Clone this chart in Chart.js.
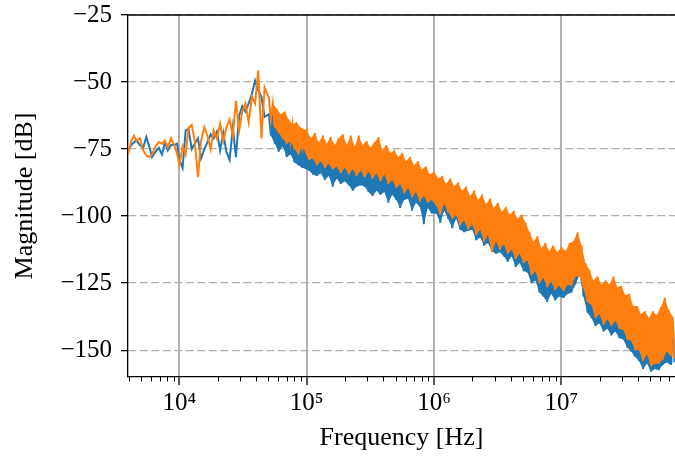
<!DOCTYPE html>
<html>
<head>
<meta charset="utf-8">
<title>Magnitude spectrum</title>
<script src="https://cdn.jsdelivr.net/npm/chart.js@4.4.1/dist/chart.umd.min.js"></script>
<style>
  html, body { margin: 0; padding: 0; background: #ffffff; }
  canvas { display: block; }
</style>
</head>
<body>
<canvas id="spectrum" width="675" height="456"></canvas>
<script>
// Frequency grid [Hz] (coarser below 50 kHz)
const freqHz = [
  3950, 4200, 4400, 4600, 4900, 5200, 5500, 5800, 6100, 6500, 6900, 7300, 7700, 8100, 8600, 9100, 9600,
  10000, 10600, 11200, 11800, 12500, 13200, 14000, 14800, 15700, 16600, 17600, 18600, 19700, 20900, 22100,
  23400, 24800, 26300, 27800, 29500, 31200, 33000, 35000, 37100, 39300, 41600, 44100, 46700,
  5.05e4, 5.23e4, 5.42e4, 5.62e4, 5.82e4, 6.03e4, 6.25e4, 6.48e4, 6.72e4, 6.96e4, 7.21e4, 7.47e4, 7.74e4,
  8.02e4, 8.31e4, 8.61e4, 8.92e4, 9.25e4, 9.58e4,
  1e5, 1.04e5, 1.08e5, 1.12e5, 1.16e5, 1.2e5, 1.24e5, 1.29e5, 1.34e5, 1.39e5, 1.44e5, 1.49e5, 1.54e5, 1.6e5,
  1.66e5, 1.72e5, 1.78e5, 1.85e5, 1.92e5, 1.99e5, 2.06e5, 2.14e5, 2.22e5, 2.3e5, 2.38e5, 2.47e5, 2.56e5,
  2.65e5, 2.75e5, 2.85e5, 2.95e5, 3.06e5, 3.17e5, 3.29e5, 3.41e5, 3.53e5, 3.66e5, 3.79e5, 3.93e5, 4.07e5,
  4.22e5, 4.37e5, 4.53e5, 4.7e5, 4.87e5, 5.05e5, 5.23e5, 5.42e5, 5.62e5, 5.82e5, 6.03e5, 6.25e5, 6.48e5,
  6.72e5, 6.96e5, 7.21e5, 7.47e5, 7.74e5, 8.02e5, 8.31e5, 8.61e5, 8.92e5, 9.25e5, 9.58e5,
  1e6, 1.04e6, 1.08e6, 1.12e6, 1.16e6, 1.2e6, 1.24e6, 1.29e6, 1.34e6, 1.39e6, 1.44e6, 1.49e6, 1.54e6, 1.6e6,
  1.66e6, 1.72e6, 1.78e6, 1.85e6, 1.92e6, 1.99e6, 2.06e6, 2.14e6, 2.22e6, 2.3e6, 2.38e6, 2.47e6, 2.56e6,
  2.65e6, 2.75e6, 2.85e6, 2.95e6, 3.06e6, 3.17e6, 3.29e6, 3.41e6, 3.53e6, 3.66e6, 3.79e6, 3.93e6, 4.07e6,
  4.22e6, 4.37e6, 4.53e6, 4.7e6, 4.87e6, 5.05e6, 5.23e6, 5.42e6, 5.62e6, 5.82e6, 6.03e6, 6.25e6, 6.48e6,
  6.72e6, 6.96e6, 7.21e6, 7.47e6, 7.74e6, 8.02e6, 8.31e6, 8.61e6, 8.92e6, 9.25e6, 9.58e6,
  1e7, 1.04e7, 1.08e7, 1.12e7, 1.16e7, 1.2e7, 1.24e7, 1.29e7, 1.34e7, 1.39e7, 1.44e7, 1.49e7, 1.54e7, 1.6e7,
  1.66e7, 1.72e7, 1.78e7, 1.85e7, 1.92e7, 1.99e7, 2.06e7, 2.14e7, 2.22e7, 2.3e7, 2.38e7, 2.47e7, 2.56e7,
  2.65e7, 2.75e7, 2.85e7, 2.95e7, 3.06e7, 3.17e7, 3.29e7, 3.41e7, 3.53e7, 3.66e7, 3.79e7, 3.93e7, 4.07e7,
  4.22e7, 4.37e7, 4.53e7, 4.7e7, 4.87e7, 5.05e7, 5.23e7, 5.42e7, 5.62e7, 5.82e7, 6.03e7, 6.25e7, 6.48e7,
  6.72e7, 6.96e7, 7.21e7, 7.47e7, 7.74e7,
];

// Magnitude [dB], blue trace
const magBlue = [
  -75.5, -73.5, -72.5, -71.8, -73.5, -74.5, -70.5, -74, -78, -76, -74.5, -77, -72.5, -75.5, -73.5, -73.5, -73,
  -79, -82, -68, -67.5, -75, -73, -71, -78.5, -75, -72.5, -69.5, -71, -68.5, -75.5, -69,
  -76, -79, -67, -78, -62.5, -59, -61, -58, -54.5, -49.5, -53, -55.5, -63,
  -62, -70, -61, -73, -64, -76, -66, -74, -65, -78, -68, -77, -69, -80, -68, -81, -70, -82, -72,
  -73, -83, -72, -84.5, -74, -85, -73, -84, -75, -86.5, -74, -85, -75, -89, -74.5, -86, -76, -88, -75, -87,
  -76, -88.5, -75.5, -90.5, -77, -89, -76, -88.5, -77.5, -89, -77, -91, -78, -92.5, -78, -90.5, -77, -92,
  -79, -91, -79.5, -95, -80, -92, -80.5, -94, -81, -97, -82, -94, -82.5, -93.5, -83, -98, -84, -95,
  -84.5, -96.5, -85.5, -103, -86, -97, -87, -99,
  -88, -99, -89, -102.5, -90, -98, -91, -101, -91.5, -104.5, -92, -101, -93, -105, -93.5, -106, -94.5, -105.5,
  -95.5, -105, -96, -109, -97, -108, -97.5, -111, -98.5, -110, -99, -113, -99.5, -114, -100.5, -113.5,
  -101.5, -115, -102, -117, -102.5, -115, -103.5, -119, -104, -117.5, -105, -120.5, -107, -121, -110, -125,
  -112, -124, -113.5, -128.5, -114.5, -130, -115, -132, -115.5, -129, -116, -131.5, -115.5, -130,
  -116, -130.5, -115, -129, -114, -128.5, -112, -125.5, -110, -122, -114, -130, -118, -136, -122, -138,
  -125, -141, -126.5, -140, -127, -143, -128, -142, -127, -144.5, -126.5, -143, -128.5, -145.5, -130, -146,
  -131.5, -149, -133, -150.5, -135.5, -152.5, -137, -154, -138.5, -157, -139.5, -155, -140, -158, -139.5, -157,
  -139, -157.5, -138, -155.5, -135, -154.5, -138, -155.5, -139.5, -154.5,
];

// Magnitude [dB], orange trace
const magOrange = [
  -77, -72, -70, -71.8, -71, -75.5, -77.4, -78, -77, -74, -72.4, -73, -71.8, -74.4, -71, -73.5, -76.7,
  -81, -74, -77, -67, -66, -72, -85.5, -72, -66.8, -70, -75, -68, -71, -65.5, -72,
  -67, -64, -70, -57, -68, -61, -58, -65, -55.5, -58, -45.6, -71, -52,
  -56, -64, -58, -67, -60, -69, -62, -71, -61, -73, -64, -72, -66, -75, -65, -77, -67, -74, -69,
  -68, -79, -71, -78.5, -69, -81, -72.5, -79.5, -70, -82, -73, -80.5, -70.5, -82.5, -73.5, -81.5, -71, -84,
  -69.5, -82, -73.5, -84.5, -70, -82.5, -74, -85, -70, -83, -73.5, -85.5, -72, -83.5, -74.5, -86, -72.5, -84,
  -70.5, -87, -75.5, -84.5, -73.5, -88, -76.5, -86.5, -75.5, -89.5, -78, -88, -76.5, -91.5, -79.5, -89.5,
  -78, -93, -81, -91, -79.5, -94.5, -82.5, -92.5, -81.5, -95, -84.5, -94,
  -83.5, -96, -86, -99.5, -85, -95.5, -88, -98.5, -86, -101, -89, -99.5, -87.5, -103.5, -90.5, -101.5,
  -89, -105, -92.5, -103, -90.5, -107, -94, -105, -92, -109.5, -95.5, -107, -93.5, -113.5, -97, -109.5,
  -95, -112.5, -98.5, -110.5, -96.5, -114, -99.5, -112.5, -98, -116, -101, -114, -99.5, -117.5, -102.5, -116.5,
  -106, -122, -109.5, -120.5, -107.5, -125, -112, -123, -110, -126.5, -113, -124.5, -111, -127.5, -113.5, -126,
  -111.5, -128, -113, -125.5, -110, -126, -109.5, -122.5, -106, -122.5, -111, -127, -117.5, -132, -120, -133,
  -124, -138, -122.5, -136.5, -125.5, -140.5, -124, -138.5, -125.5, -141, -122.5, -139, -126.5, -142, -126, -142.5,
  -129.5, -146, -129, -146.5, -133.5, -150, -133.5, -150, -136.5, -154, -135.5, -151.5, -138, -156, -135.5, -155,
  -137, -155, -134, -153.5, -130.5, -150.5, -135, -152, -137.5, -153,
];

const xDecadeTicks = [1e4, 1e5, 1e6, 1e7];
const xMinorSteps = [2, 3, 4, 5, 6, 7, 8, 9];
const yTickValues = [-150, -125, -100, -75, -50, -25];

const X_MIN = 3950;
const X_MAX = 7.8e7;
const Y_MIN = -160;
const Y_MAX = -25;
const BAND_START = 45; // from ~50 kHz on the traces are so dense they read as a band

const BLUE = '#1f77b4';
const ORANGE = '#ff7f0e';
const SUPERSCRIPT = { 3: '\u00b3', 4: '\u2074', 5: '\u2075', 6: '\u2076', 7: '\u2077' };
const SERIF = "'Liberation Serif', 'DejaVu Serif', serif";

// minor ticks between decades (2..9 x 10^n) inside the visible range
const xMinorTicks = [1e3, 1e4, 1e5, 1e6, 1e7]
  .flatMap((d) => xMinorSteps.map((m) => m * d))
  .filter((v) => v > X_MIN && v < X_MAX);

const toPoints = (values) => freqHz.map((f, i) => ({ x: f, y: values[i] }));

// local peaks (or dips) of a trace, used as the edges of the filled band
function bandEdge(values, peaks) {
  const pts = [];
  for (let i = BAND_START; i < freqHz.length; i++) {
    const prev = values[i - 1];
    const next = i + 1 < values.length ? values[i + 1] : values[i];
    const isPeak = values[i] >= prev && values[i] >= next;
    const isDip = values[i] <= prev && values[i] <= next;
    if (peaks ? isPeak : isDip) pts.push({ x: freqHz[i], y: values[i] });
  }
  return pts;
}

const lineSet = (label, values, color, order) => ({
  label,
  data: toPoints(values),
  borderColor: color,
  borderWidth: 2,
  pointRadius: 0,
  tension: 0,
  order,
});

const bandSets = (label, values, color, order) => [
  {
    label: label + ' top',
    data: bandEdge(values, true),
    borderWidth: 0,
    pointRadius: 0,
    backgroundColor: color,
    fill: '+1',
    order,
  },
  {
    label: label + ' bottom',
    data: bandEdge(values, false),
    borderWidth: 0,
    pointRadius: 0,
    fill: false,
    order,
  },
];

// top spine and short minor ticks (Chart.js has a single tick length per axis)
const spinePlugin = {
  id: 'spines',
  afterDraw(chart) {
    const { ctx, chartArea: area, scales } = chart;
    ctx.save();
    ctx.strokeStyle = '#000000';
    ctx.lineWidth = 1.3;
    ctx.beginPath();
    ctx.moveTo(area.left, area.top);
    ctx.lineTo(area.right, area.top);
    ctx.stroke();
    ctx.lineWidth = 1;
    ctx.beginPath();
    xMinorTicks.forEach((v) => {
      const px = Math.round(scales.x.getPixelForValue(v)) + 0.5;
      ctx.moveTo(px, area.bottom);
      ctx.lineTo(px, area.bottom + 4.5);
    });
    ctx.stroke();
    ctx.restore();
  },
};

const noPadding = (scale) => {
  scale.paddingTop = 0;
  scale.paddingBottom = 0;
  scale.paddingLeft = 0;
  scale.paddingRight = 0;
};

new Chart(document.getElementById('spectrum'), {
  type: 'line',
  data: {
    datasets: [
      lineSet('orange', magOrange, ORANGE, 1),
      ...bandSets('orange', magOrange, ORANGE, 2),
      lineSet('blue', magBlue, BLUE, 3),
      ...bandSets('blue', magBlue, BLUE, 4),
    ],
  },
  options: {
    responsive: false,
    animation: false,
    events: [],
    layout: { padding: { top: 15, right: 0, bottom: 0, left: 0 } },
    plugins: {
      legend: { display: false },
      tooltip: { enabled: false },
    },
    scales: {
      x: {
        type: 'logarithmic',
        min: X_MIN,
        max: X_MAX,
        afterBuildTicks: (scale) => {
          scale.ticks = xDecadeTicks.map((v) => ({ value: v }));
        },
        afterFit: (scale) => {
          scale.height = 79;
          noPadding(scale);
        },
        ticks: {
          autoSkip: false,
          maxRotation: 0,
          padding: 3,
          color: '#000000',
          font: { family: SERIF, size: 25 },
          callback: (value) => '10' + SUPERSCRIPT[Math.round(Math.log10(value))],
        },
        grid: {
          color: '#b0b0b0',
          lineWidth: 2,
          tickColor: '#000000',
          tickWidth: 1.3,
          tickLength: 8,
        },
        border: { color: '#000000', width: 1.3 },
        title: {
          display: true,
          text: 'Frequency [Hz]',
          color: '#000000',
          font: { family: SERIF, size: 26 },
          padding: { top: 0, bottom: 2 },
        },
      },
      y: {
        min: Y_MIN,
        max: Y_MAX,
        afterBuildTicks: (scale) => {
          scale.ticks = yTickValues.map((v) => ({ value: v }));
        },
        afterFit: (scale) => {
          scale.width = 128;
          noPadding(scale);
        },
        ticks: {
          padding: 9,
          color: '#000000',
          font: { family: SERIF, size: 25 },
          callback: (value) => (value < 0 ? '\u2212' + Math.abs(value) : String(value)),
        },
        grid: {
          color: '#b0b0b0',
          lineWidth: 1.3,
          tickColor: '#000000',
          tickWidth: 1.3,
          tickLength: 7,
        },
        border: { color: '#000000', width: 1.3, dash: [8, 3.5] },
        title: {
          display: true,
          text: 'Magnitude [dB]',
          color: '#000000',
          font: { family: SERIF, size: 26 },
          padding: { top: 10, bottom: 0 },
        },
      },
    },
  },
  plugins: [spinePlugin],
});
</script>
</body>
</html>
